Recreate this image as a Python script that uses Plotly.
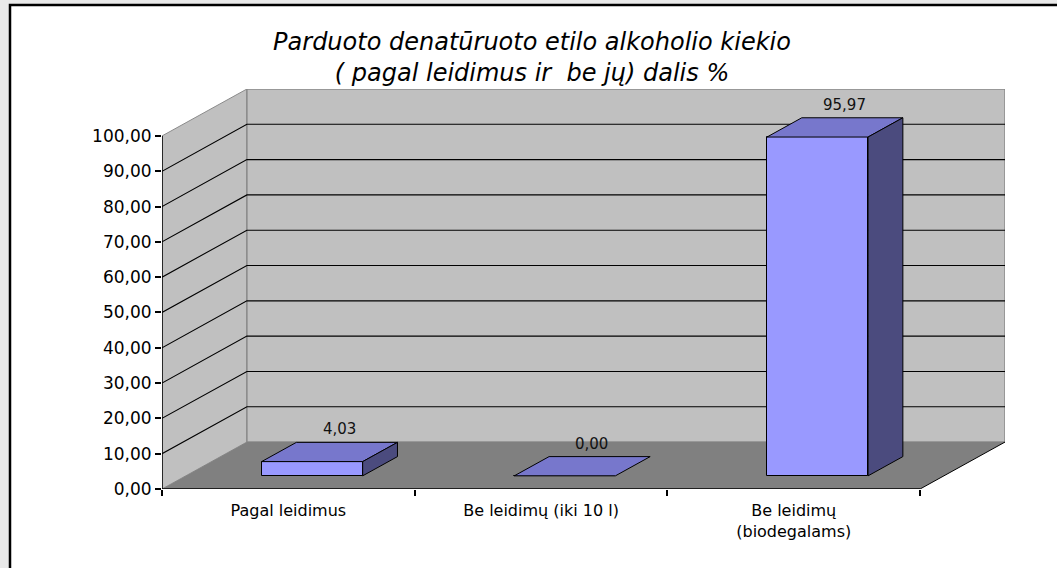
import plotly.graph_objects as go

# ---------------- data ----------------
categories = ["Pagal leidimus", "Be leidimų (iki 10 l)", "Be leidimų<br>(biodegalams)"]
values = [4.03, 0.00, 95.97]
value_labels = ["4,03", "0,00", "95,97"]
ytick_vals = [0, 10, 20, 30, 40, 50, 60, 70, 80, 90, 100]
ytick_text = ["0,00", "10,00", "20,00", "30,00", "40,00", "50,00",
              "60,00", "70,00", "80,00", "90,00", "100,00"]
title_text = "Parduoto denatūruoto etilo alkoholio kiekio<br>( pagal leidimus ir  be jų) dalis %"

# ---------------- layout geometry ----------------
W, H = 1057, 568
ML, MR, MT, MB = 162, 52, 89, 79
PW, PH = W - ML - MR, H - MT - MB
N = len(categories)
DX, DY = 0.336, 13.3          # oblique depth offset (data units)
YTOP = max(ytick_vals)
HALF_W = 0.2                  # half bar width (category units)
D0, D1 = 0.28, 0.69           # bar depth span (fraction of floor depth)

FRONT = "#9999ff"
TOP = "#7777cc"
SIDE = "#4b4b7e"
WALL = "#c0c0c0"
FLOOR = "#808080"
FONT = "DejaVu Sans"


def P(x, v, d):
    return (x + d * DX, v + d * DY)


def path(pts):
    s = "M " + " L ".join(f"{x:.5f},{y:.5f}" for x, y in pts)
    return s + " Z"


def lpath(pts):
    return "M " + " L ".join(f"{x:.5f},{y:.5f}" for x, y in pts)


shapes = []
# white chart frame with black border (extends past right/bottom of the view)
shapes.append(dict(type="rect", xref="paper", yref="paper", layer="below",
                   x0=(10 - ML) / PW, x1=(W + 10 - ML) / PW,
                   y0=(H - MB - (H + 10)) / PH, y1=(H - MB - 5) / PH,
                   fillcolor="white", line=dict(color="black", width=2.5)))
# side wall
shapes.append(dict(type="path", xref="x", yref="y", layer="below",
                   path=path([P(0, 0, 0), P(0, YTOP, 0), P(0, YTOP, 1), P(0, 0, 1)]),
                   fillcolor=WALL, line=dict(color="#8a8a8a", width=1)))
# back wall
shapes.append(dict(type="path", xref="x", yref="y", layer="below",
                   path=path([P(0, 0, 1), P(N, 0, 1), P(N, YTOP, 1), P(0, YTOP, 1)]),
                   fillcolor=WALL, line=dict(color="#8a8a8a", width=1.5)))
# floor
shapes.append(dict(type="path", xref="x", yref="y", layer="below",
                   path=path([P(0, 0, 0), P(N, 0, 0), P(N, 0, 1), P(0, 0, 1)]),
                   fillcolor=FLOOR, line=dict(width=0)))
# floor right edge
shapes.append(dict(type="path", xref="x", yref="y", layer="below",
                   path=lpath([P(N, 0, 0), P(N, 0, 1)]),
                   line=dict(color="black", width=1)))
# gridlines on side and back wall
for v in ytick_vals:
    if v == 0 or v == YTOP:
        continue
    shapes.append(dict(type="path", xref="x", yref="y", layer="below",
                       path=lpath([P(0, v, 0), P(0, v, 1), P(N, v, 1)]),
                       line=dict(color="black", width=1.1)))
# front axis lines
shapes.append(dict(type="line", xref="x", yref="y", layer="above",
                   x0=0, x1=N, y0=0, y1=0, line=dict(color="black", width=1.5)))
shapes.append(dict(type="line", xref="x", yref="y", layer="above",
                   x0=0, x1=0, y0=0, y1=YTOP, line=dict(color="black", width=1.5)))

fig = go.Figure()

centers = [i + 0.5 for i in range(N)]

# front faces as bars
fig.add_trace(go.Bar(
    x=[c + D0 * DX for c in centers], y=values, base=D0 * DY,
    width=2 * HALF_W,
    marker=dict(color=FRONT, line=dict(color="black", width=1)),
    hoverinfo="skip", showlegend=False))

# top and side faces
for c, v in zip(centers, values):
    top = [P(c - HALF_W, v, D0), P(c + HALF_W, v, D0), P(c + HALF_W, v, D1),
           P(c - HALF_W, v, D1), P(c - HALF_W, v, D0)]
    fig.add_trace(go.Scatter(x=[p[0] for p in top], y=[p[1] for p in top],
                             mode="lines", fill="toself", fillcolor=TOP,
                             line=dict(color="black", width=1),
                             hoverinfo="skip", showlegend=False))
    if v > 0:
        side = [P(c + HALF_W, 0, D0), P(c + HALF_W, 0, D1), P(c + HALF_W, v, D1),
                P(c + HALF_W, v, D0), P(c + HALF_W, 0, D0)]
        fig.add_trace(go.Scatter(x=[p[0] for p in side], y=[p[1] for p in side],
                                 mode="lines", fill="toself", fillcolor=SIDE,
                                 line=dict(color="black", width=1),
                                 hoverinfo="skip", showlegend=False))

annotations = []
for c, v, t in zip(centers, values, value_labels):
    lx, ly = P(c, v, 0.6)
    annotations.append(dict(x=lx, y=v + D1 * DY, xref="x", yref="y", text=t,
                            showarrow=False, yanchor="bottom", yshift=2,
                            font=dict(family=FONT, size=15, color="#111111")))

fig.update_layout(
    width=W, height=H,
    margin=dict(l=ML, r=MR, t=MT, b=MB, pad=0),
    paper_bgcolor="#e9e9e9", plot_bgcolor="white",
    shapes=shapes, annotations=annotations,
    bargap=0, showlegend=False,
    title=dict(text=title_text, x=532 / W, xanchor="center",
               y=1 - 50 / H, yanchor="top", yref="container",
               font=dict(family=FONT, size=24, color="black", style="italic")),
    xaxis=dict(range=[0, N + DX], tickmode="array", tickvals=centers,
               ticktext=categories, ticks="", showgrid=False, zeroline=False,
               showline=False, ticklabelstandoff=10,
               tickfont=dict(family=FONT, size=16, color="black"),
               minor=dict(tickmode="array", tickvals=list(range(N + 1)),
                          ticks="outside", ticklen=6, tickwidth=1.5,
                          tickcolor="black", showgrid=False)),
    yaxis=dict(range=[0, YTOP + DY], tickmode="array", tickvals=ytick_vals,
               ticktext=ytick_text, ticks="outside", ticklen=6, tickwidth=1.5,
               tickcolor="black", showgrid=False, zeroline=False, showline=False,
               tickfont=dict(family=FONT, size=17, color="black")),
)

fig.write_html(
    "out.html",
    config={"displayModeBar": False},
    post_script="document.body.style.margin='0';document.body.style.overflow='hidden';",
)
